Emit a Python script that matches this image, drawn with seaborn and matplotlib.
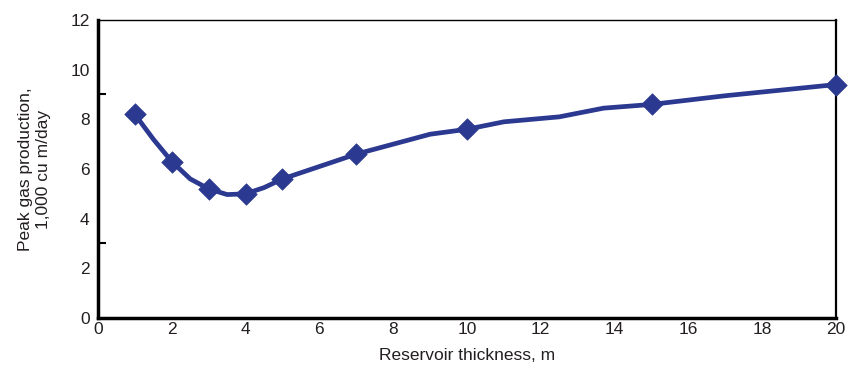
import matplotlib
matplotlib.use("Agg")
import matplotlib.pyplot as plt
import seaborn as sns
import pandas as pd

# measured points (diamond markers)
thickness = [1, 2, 3, 4, 5, 7, 10, 15, 20]
peak_gas = [8.2, 6.3, 5.2, 5.0, 5.6, 6.6, 7.6, 8.6, 9.4]

# smooth curve
curve_x = [1, 1.5, 2, 2.5, 3, 3.5, 4, 4.5, 5, 6, 7, 8, 9, 10, 11, 12.5, 13.7, 15, 17, 20]
curve_y = [8.2, 7.2, 6.3, 5.6, 5.2, 4.97, 5.0, 5.25, 5.6, 6.1, 6.6, 7.0, 7.4, 7.6, 7.9, 8.1, 8.45, 8.6, 8.95, 9.4]

xticks = list(range(0, 21, 2))
yticks = list(range(0, 13, 2))

sns.set_theme(style="white")
plt.rcParams["font.family"] = ["Liberation Sans", "DejaVu Sans"]

navy = "#2b3990"
txt = "#231f20"

fig = plt.figure(figsize=(8.49, 3.65), dpi=100)
ax = fig.add_axes([0.1154, 0.1288, 0.8693, 0.8164])

pts = pd.DataFrame({"x": thickness, "y": peak_gas})
crv = pd.DataFrame({"x": curve_x, "y": curve_y})

sns.lineplot(data=crv, x="x", y="y", ax=ax, color=navy, linewidth=3.4, sort=False)
sns.scatterplot(data=pts, x="x", y="y", ax=ax, color=navy, marker="D", s=120,
                edgecolor=navy, linewidth=0.5, zorder=5, clip_on=False)

ax.set_xlim(0, 20)
ax.set_ylim(0, 12)
ax.set_xticks(xticks)
ax.set_xticklabels([str(v) for v in xticks])
ax.set_yticks(yticks)
ax.set_yticklabels([str(v) for v in yticks])
ax.set_yticks([3, 9], minor=True)

ax.tick_params(axis="x", which="major", direction="in", length=6, width=1.5,
               colors="black", labelcolor=txt, labelsize=12.5, pad=3)
ax.tick_params(axis="y", which="major", length=0, labelcolor=txt, labelsize=12.5, pad=6)
ax.tick_params(axis="y", which="minor", direction="in", length=6, width=1.5,
               colors="black", left=True)

for side, lw in [("left", 2.5), ("bottom", 2.5), ("right", 1.6), ("top", 1.0)]:
    ax.spines[side].set_visible(True)
    ax.spines[side].set_linewidth(lw)
    ax.spines[side].set_color("black")

ax.set_xlabel("Reservoir thickness, m", fontsize=12.5, color=txt, labelpad=8)
ax.set_ylabel("Peak gas production,\n1,000 cu m/day", fontsize=12.5, color=txt,
              labelpad=14, linespacing=1.2)

fig.savefig("out.png", dpi=100)
